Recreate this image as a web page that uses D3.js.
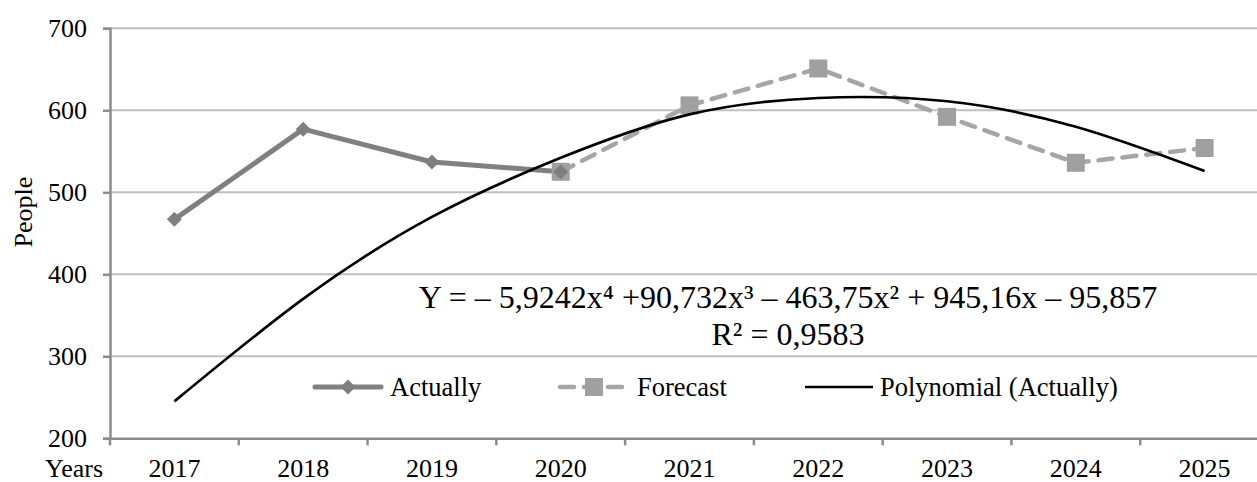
<!DOCTYPE html>
<html><head><meta charset="utf-8">
<script src="https://cdn.jsdelivr.net/npm/d3@7"></script>
<style>
body{margin:0;background:#fff}
svg{display:block}
text{font-family:"Liberation Serif","Times New Roman",serif;fill:#000}
</style>
</head><body>
<svg id="c" width="1257" height="482"></svg>
<script>
// ---- data ----
const categories = ["2017","2018","2019","2020","2021","2022","2023","2024","2025"];
const actualValues   = [467, 577, 537, 525, null, null, null, null, null];
const forecastValues = [null, null, null, 525, 606, 651, 592, 536, 554];
const trendValues    = [245, 370, 470, 542, 595, 615, 611, 580, 526];
const yTicks = [200, 300, 400, 500, 600, 700];
const equationText = "Y = – 5,9242x⁴ +90,732x³ – 463,75x² + 945,16x – 95,857";
const r2Text = "R² = 0,9583";
const legendLabels = ["Actually", "Forecast", "Polynomial (Actually)"];
const yTitle = "People", xTitle = "Years";

// ---- layout ----
const svg = d3.select("#c");
const pLeft = 110, pRight = 1269, pTop = 28.3, pBottom = 438.3;
const x = d3.scaleBand().domain(categories).range([pLeft, pRight]);
const cx = c => x(c) + x.bandwidth() / 2;
const y = d3.scaleLinear().domain([200, 700]).range([pBottom, pTop]);

const axisColor = "#8c8c8c", gridColor = "#c0c0c0";

// gridlines
svg.append("g").selectAll("line").data(yTicks.filter(t => t > 200)).join("line")
  .attr("x1", pLeft).attr("x2", pRight)
  .attr("y1", d => y(d)).attr("y2", d => y(d))
  .attr("stroke", gridColor).attr("stroke-width", 2);

// y axis
const yAxis = svg.append("g").attr("transform", `translate(${pLeft},0)`)
  .call(d3.axisLeft(y).tickValues(yTicks).tickSize(7).tickPadding(16).tickFormat(d3.format("d")));
yAxis.select(".domain").attr("stroke", axisColor).attr("stroke-width", 2.5);
yAxis.selectAll(".tick line").attr("stroke", axisColor).attr("stroke-width", 2.5);
yAxis.selectAll(".tick text").attr("font-size", 26).attr("font-family", "Liberation Serif").attr("fill", "#000");

// x axis
const xAxis = svg.append("g").attr("transform", `translate(0,${pBottom})`)
  .call(d3.axisBottom(x).tickSize(0).tickPadding(0));
xAxis.select(".domain").attr("stroke", axisColor).attr("stroke-width", 2.5);
xAxis.selectAll(".tick text").attr("font-size", 26).attr("font-family", "Liberation Serif")
  .attr("fill", "#000").attr("y", 39).attr("dy", 0);
const boundaries = categories.map(c => x(c)).concat([x(categories[categories.length-1]) + x.bandwidth()]);
svg.append("g").selectAll("line").data(boundaries).join("line")
  .attr("x1", d => d).attr("x2", d => d).attr("y1", pBottom).attr("y2", pBottom + 7)
  .attr("stroke", axisColor).attr("stroke-width", 2.5);

// titles
svg.append("text").attr("transform", `translate(32,212) rotate(-90)`)
  .attr("text-anchor", "middle").attr("font-size", 26).text(yTitle);
svg.append("text").attr("x", 45).attr("y", 477).attr("font-size", 26).text(xTitle);

// series
const actualPts = categories.map((c, i) => [c, actualValues[i]]).filter(d => d[1] != null);
const forecastPts = categories.map((c, i) => [c, forecastValues[i]]).filter(d => d[1] != null);
const trendPts = categories.map((c, i) => [c, trendValues[i]]);

const line = d3.line().x(d => cx(d[0])).y(d => y(d[1]));

svg.append("path").datum(forecastPts).attr("d", line)
  .attr("fill", "none").attr("stroke", "#a6a6a6").attr("stroke-width", 4.5)
  .attr("stroke-dasharray", "14 10").attr("stroke-linecap", "round");
svg.append("path").datum(actualPts).attr("d", line)
  .attr("fill", "none").attr("stroke", "#808080").attr("stroke-width", 5)
  .attr("stroke-linejoin", "round");

const sq = 18;
svg.append("g").selectAll("rect").data(forecastPts).join("rect")
  .attr("x", d => cx(d[0]) - sq/2).attr("y", d => y(d[1]) - sq/2)
  .attr("width", sq).attr("height", sq).attr("fill", "#a0a0a0");

const diamond = (px, py, r) => `M${px},${py-r}L${px+r},${py}L${px},${py+r}L${px-r},${py}Z`;
svg.append("g").selectAll("path").data(actualPts).join("path")
  .attr("d", d => diamond(cx(d[0]), y(d[1]), 7.5)).attr("fill", "#7f7f7f");

svg.append("path").datum(trendPts).attr("d", d3.line().x(d => cx(d[0])).y(d => y(d[1])).curve(d3.curveNatural))
  .attr("fill", "none").attr("stroke", "#000").attr("stroke-width", 2.7);

// equation
svg.append("text").attr("x", 788).attr("y", 308).attr("text-anchor", "middle")
  .attr("font-size", 32).text(equationText);
svg.append("text").attr("x", 788).attr("y", 345).attr("text-anchor", "middle")
  .attr("font-size", 32).text(r2Text);

// legend
const ly = 387;
const lg = svg.append("g");
lg.append("line").attr("x1", 315).attr("x2", 381).attr("y1", ly).attr("y2", ly)
  .attr("stroke", "#808080").attr("stroke-width", 5).attr("stroke-linecap", "round");
lg.append("path").attr("d", diamond(348, ly, 7.5)).attr("fill", "#7f7f7f");
lg.append("text").attr("x", 390).attr("y", ly + 9).attr("font-size", 26.5).text(legendLabels[0]);

lg.append("line").attr("x1", 560).attr("x2", 628).attr("y1", ly).attr("y2", ly)
  .attr("stroke", "#a6a6a6").attr("stroke-width", 4.5)
  .attr("stroke-dasharray", "14 10").attr("stroke-linecap", "round");
lg.append("rect").attr("x", 594 - sq/2).attr("y", ly - sq/2).attr("width", sq).attr("height", sq).attr("fill", "#a0a0a0");
lg.append("text").attr("x", 637).attr("y", ly + 9).attr("font-size", 26.5).text(legendLabels[1]);

lg.append("line").attr("x1", 805).attr("x2", 873).attr("y1", ly).attr("y2", ly)
  .attr("stroke", "#000").attr("stroke-width", 2.7);
lg.append("text").attr("x", 880).attr("y", ly + 9).attr("font-size", 26.5).text(legendLabels[2]);
</script>
</body></html>
